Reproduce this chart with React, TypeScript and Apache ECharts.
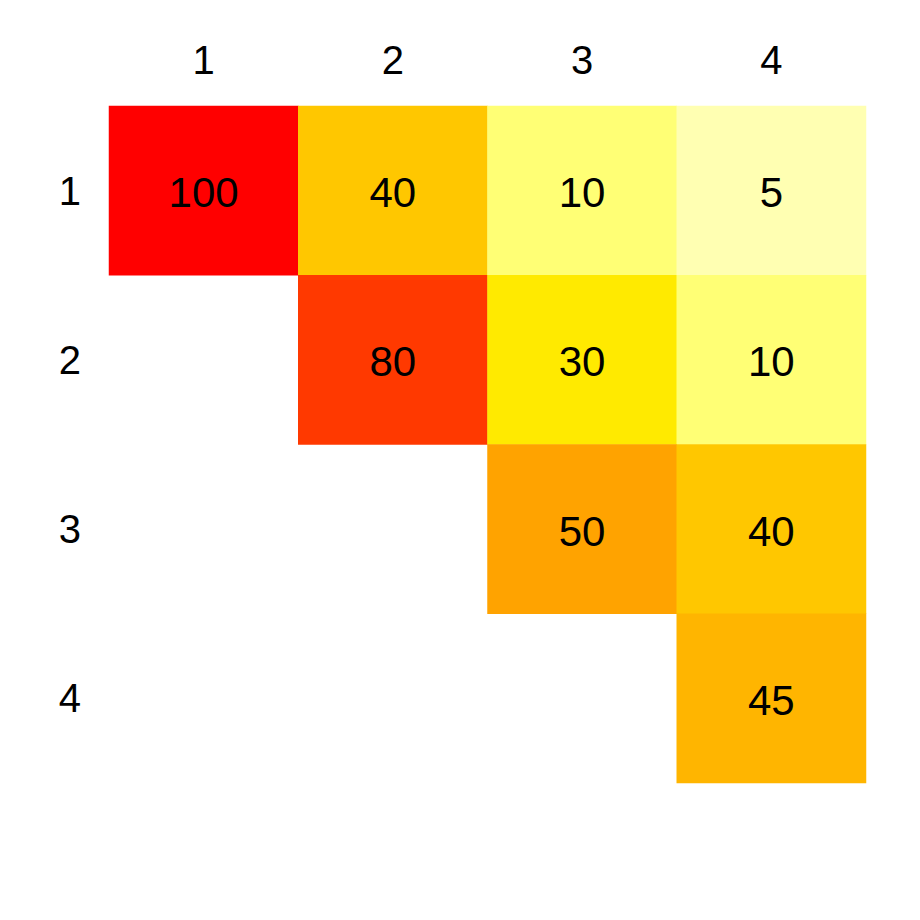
import React, { useEffect, useRef } from "react";
import * as echarts from "echarts";

const xCategories = ["1", "2", "3", "4"];
const yCategories = ["1", "2", "3", "4"];
// [col, row, value]
const cells: [number, number, number][] = [
  [0, 0, 100], [1, 0, 40], [2, 0, 10], [3, 0, 5],
  [1, 1, 80], [2, 1, 30], [3, 1, 10],
  [2, 2, 50], [3, 2, 40],
  [3, 3, 45],
];
const colorPieces = [
  { value: 100, color: "#FF0000" },
  { value: 80, color: "#FF3900" },
  { value: 50, color: "#FFA300" },
  { value: 45, color: "#FFB500" },
  { value: 40, color: "#FFC700" },
  { value: 30, color: "#FFEA00" },
  { value: 10, color: "#FFFF75" },
  { value: 5, color: "#FFFFB2" },
];

export default function App() {
  const ref = useRef<HTMLDivElement>(null);
  useEffect(() => {
    if (!ref.current) return;
    const chart = echarts.init(ref.current, null, { renderer: "svg" });
    const font = "Liberation Sans, Arial, sans-serif";
    chart.setOption({
      animation: false,
      backgroundColor: "#ffffff",
      grid: { left: 109, right: 54, top: 106, bottom: 137 },
      xAxis: {
        type: "category",
        position: "top",
        data: xCategories,
        axisLine: { show: false },
        axisTick: { show: false },
        splitLine: { show: false },
        axisLabel: { fontSize: 40, color: "#000", fontFamily: font, margin: 26 },
      },
      yAxis: {
        type: "category",
        inverse: true,
        data: yCategories,
        axisLine: { show: false },
        axisTick: { show: false },
        splitLine: { show: false },
        axisLabel: { fontSize: 40, color: "#000", fontFamily: font, margin: 28 },
      },
      visualMap: {
        type: "piecewise",
        show: false,
        dimension: 2,
        pieces: colorPieces,
      },
      series: [
        {
          type: "heatmap",
          data: cells,
          label: {
            show: true,
            fontSize: 42,
            color: "#000",
            fontFamily: font,
            offset: [0, 2],
          },
          itemStyle: { borderWidth: 0 },
          emphasis: { disabled: true },
        },
      ],
    });
    return () => chart.dispose();
  }, []);
  return (
    <div
      ref={ref}
      style={{ position: "absolute", left: 0, top: 0, width: 920, height: 920 }}
    />
  );
}
